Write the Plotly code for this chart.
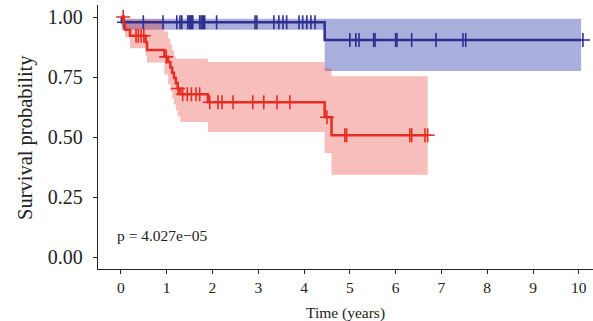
import numpy as np
import plotly.graph_objects as go

# ---------------- data ----------------
red_time  = [0, 0.06, 0.09, 0.20, 0.54, 0.57, 0.95, 1.03, 1.08, 1.12, 1.16, 1.20, 1.24, 1.30, 1.90, 4.45, 4.60, 6.70]
red_surv  = [1.0, 0.97, 0.947, 0.922, 0.895, 0.862, 0.834, 0.812, 0.790, 0.768, 0.746, 0.724, 0.702, 0.678, 0.645, 0.582, 0.507, 0.507]
red_upper = [1.0, 0.995, 0.99, 0.99, 0.99, 0.99, 0.94, 0.91, 0.885, 0.86, 0.835, 0.826, 0.826, 0.826, 0.812, 0.786, 0.753, 0.753]
red_lower = [1.0, 0.953, 0.915, 0.87, 0.84, 0.81, 0.76, 0.72, 0.69, 0.66, 0.635, 0.61, 0.585, 0.562, 0.521, 0.433, 0.343, 0.343]
red_censor = [0.05, 0.33, 0.38, 0.44, 0.50, 0.99, 1.25, 1.35, 1.45, 1.54, 1.64, 1.72, 1.94, 2.12, 2.21, 2.45,
              2.88, 3.12, 3.41, 3.69, 4.50, 4.89, 4.93, 6.31, 6.35, 6.64, 6.70]

blue_time  = [0, 0.02, 4.45, 10.05]
blue_surv  = [1.0, 0.978, 0.904, 0.904]
blue_upper = [1.0, 0.993, 0.993, 0.993]
blue_lower = [1.0, 0.947, 0.775, 0.775]
blue_censor = [0.07, 0.49, 0.92, 1.22, 1.29, 1.33, 1.46, 1.49, 1.51, 1.53, 1.55, 1.57,
               1.72, 1.75, 1.78, 1.80, 1.83, 2.09, 2.93, 2.97, 3.34, 3.45, 3.54, 3.62,
               3.89, 3.97, 4.06, 4.15, 4.24, 5.00, 5.13, 5.20, 5.52, 5.55, 6.00, 6.03,
               6.35, 6.88, 7.47, 7.53, 10.09]

x_ticks = [0, 1, 2, 3, 4, 5, 6, 7, 8, 9, 10]
y_ticks = [0, 0.25, 0.5, 0.75, 1.0]
y_ticktext = ["0.00", "0.25", "0.50", "0.75", "1.00"]
p_text = "p = 4.027e\u221205"
x_title = "Time (years)"
y_title = "Survival probability"

RED = "#E52D22"
BLUE = "#2E2F8E"
RED_FILL = "rgba(230,40,30,0.30)"
BLUE_FILL = "rgba(40,55,170,0.40)"
FONT = "Liberation Serif"


def step_value(times, vals, t):
    idx = np.searchsorted(np.asarray(times), t, side="right") - 1
    return [vals[i] for i in idx]


fig = go.Figure()

for times, up, lo, fill in [(blue_time, blue_upper, blue_lower, BLUE_FILL),
                            (red_time, red_upper, red_lower, RED_FILL)]:
    fig.add_trace(go.Scatter(x=times, y=up, mode="lines", line=dict(width=0, shape="hv"),
                             hoverinfo="skip", showlegend=False))
    fig.add_trace(go.Scatter(x=times, y=lo, mode="lines", line=dict(width=0, shape="hv"),
                             fill="tonexty", fillcolor=fill, hoverinfo="skip", showlegend=False))

for times, surv, cens, col in [(blue_time, blue_surv, blue_censor, BLUE),
                               (red_time, red_surv, red_censor, RED)]:
    fig.add_trace(go.Scatter(x=times, y=surv, mode="lines", line=dict(color=col, width=2.5, shape="hv"),
                             showlegend=False))
    fig.add_trace(go.Scatter(x=cens, y=step_value(times, surv, np.asarray(cens)), mode="markers",
                             marker=dict(symbol="cross-thin-open", size=10, color=col,
                                         line=dict(color=col, width=1.6)),
                             showlegend=False))

fig.add_annotation(x=-0.13, y=0.09, xref="x", yref="y", text=p_text, showarrow=False,
                   xanchor="left", yanchor="middle", font=dict(family=FONT, size=15.5, color="#222"))
fig.add_annotation(x=-0.1475, y=0.5, xref="paper", yref="paper", text=y_title, showarrow=False,
                   textangle=-90, xanchor="center", yanchor="middle",
                   font=dict(family=FONT, size=20.5, color="#222"))
fig.add_annotation(x=0.5, y=-0.167, xref="paper", yref="paper", text=x_title, showarrow=False,
                   xanchor="center", yanchor="middle",
                   font=dict(family=FONT, size=15.5, color="#222"))

fig.update_layout(
    width=593, height=321,
    margin=dict(l=98, r=0, t=5, b=52, pad=0),
    plot_bgcolor="white", paper_bgcolor="white",
    font=dict(family=FONT, color="#222"),
    xaxis=dict(range=[-0.5, 10.31], tickvals=x_ticks, showgrid=False, zeroline=False, automargin=False,
               showline=True, linecolor="#222", linewidth=1.3, ticks="outside", ticklen=4,
               tickcolor="#222", tickwidth=1.2, tickfont=dict(size=15.5, family=FONT)),
    yaxis=dict(range=[-0.05, 1.05], tickvals=y_ticks, ticktext=y_ticktext, showgrid=False,
               zeroline=False, showline=True, linecolor="#222", linewidth=1.3, ticks="outside",
               automargin=False, ticklen=4, tickcolor="#222", tickwidth=1.2, ticklabelstandoff=6,
               tickfont=dict(size=20, family=FONT)),
)

fig.write_html("out.html", config={"displayModeBar": False},
               post_script="document.body.style.margin='0px';document.body.style.overflow='hidden';")
